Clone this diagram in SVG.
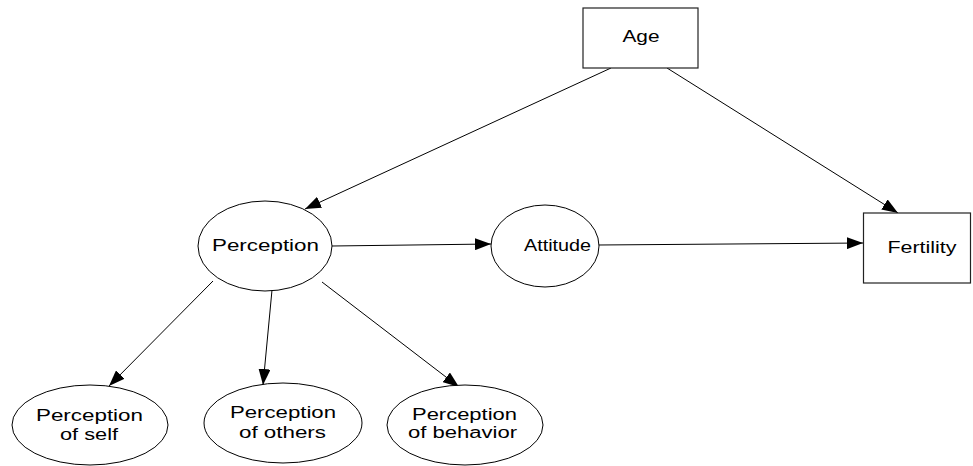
<svg xmlns="http://www.w3.org/2000/svg" width="973" height="466" viewBox="0 0 973 466">
<style>
.n{fill:#fff;stroke:#000;stroke-width:1}
.b{fill:#fff;stroke:#222;stroke-width:1.2}
.t{font-family:"Liberation Sans",Arial,sans-serif;font-size:16px;fill:#000;text-anchor:middle}
.e{stroke:#000;stroke-width:1;fill:none;marker-end:url(#ah)}
</style>
<defs>
<marker id="ah" markerUnits="userSpaceOnUse" markerWidth="16" markerHeight="12" refX="16" refY="6" orient="auto">
<path d="M0,0 L16,6 L0,12 z" fill="#000"/>
</marker>
</defs>
<rect width="973" height="466" fill="#fff"/>
<g id="edges">
<line class="e" x1="611" y1="68" x2="305" y2="209"/>
<line class="e" x1="667" y1="68" x2="898" y2="213"/>
<line class="e" x1="332" y1="246" x2="491" y2="244"/>
<line class="e" x1="598" y1="245" x2="863" y2="243"/>
<line class="e" x1="213" y1="281" x2="109" y2="386"/>
<line class="e" x1="272" y1="290" x2="263" y2="385"/>
<line class="e" x1="322" y1="282" x2="459" y2="387"/>
</g>
<g id="age">
<rect class="b" x="583" y="8" width="115" height="60"/>
<text class="t" x="641" y="42" textLength="37" lengthAdjust="spacingAndGlyphs">Age</text>
</g>
<g id="fertility">
<rect class="b" x="863.5" y="213" width="107" height="70"/>
<text class="t" x="922" y="253" textLength="69" lengthAdjust="spacingAndGlyphs">Fertility</text>
</g>
<g id="perception">
<ellipse class="n" cx="265" cy="246" rx="67" ry="45"/>
<text class="t" x="265.5" y="251" textLength="107" lengthAdjust="spacingAndGlyphs">Perception</text>
</g>
<g id="attitude">
<ellipse class="n" cx="545" cy="246" rx="54" ry="41"/>
<text class="t" x="557.5" y="251" textLength="67" lengthAdjust="spacingAndGlyphs">Attitude</text>
</g>
<g id="self">
<ellipse class="n" cx="90" cy="425" rx="78" ry="40"/>
<text class="t" x="89.5" y="421" textLength="107" lengthAdjust="spacingAndGlyphs">Perception</text>
<text class="t" x="89" y="440" textLength="58" lengthAdjust="spacingAndGlyphs">of self</text>
</g>
<g id="others">
<ellipse class="n" cx="283" cy="423" rx="79" ry="40"/>
<text class="t" x="283" y="418" textLength="106" lengthAdjust="spacingAndGlyphs">Perception</text>
<text class="t" x="282.5" y="438" textLength="87" lengthAdjust="spacingAndGlyphs">of others</text>
</g>
<g id="behavior">
<ellipse class="n" cx="465" cy="425" rx="78" ry="40"/>
<text class="t" x="464.5" y="420" textLength="105" lengthAdjust="spacingAndGlyphs">Perception</text>
<text class="t" x="462.5" y="438" textLength="109" lengthAdjust="spacingAndGlyphs">of behavior</text>
</g>
</svg>
